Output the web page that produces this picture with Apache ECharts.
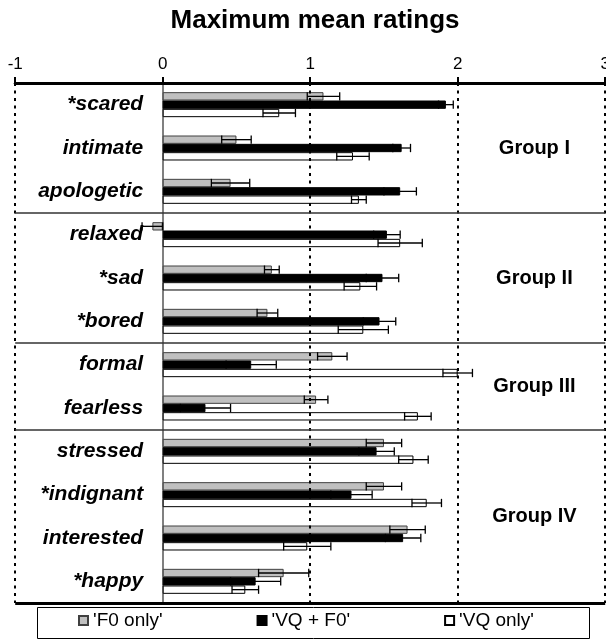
<!DOCTYPE html>
<html><head><meta charset="utf-8">
<script src="https://cdn.jsdelivr.net/npm/echarts@6/dist/echarts.min.js"></script>
<style>html,body{margin:0;padding:0;background:#fff}#c{width:606px;height:644px}</style>
</head><body><div id="c"></div>
<script>
// ---- data ----
const categories = ['*scared','intimate','apologetic','relaxed','*sad','*bored','formal','fearless','stressed','*indignant','interested','*happy'];
const xTicks = [-1, 0, 1, 2, 3];
const seriesNames = ["'F0 only'", "'VQ + F0'", "'VQ only'"];
const f0Mean   = [1.09, 0.50, 0.46, -0.07, 0.74, 0.71, 1.15, 1.04, 1.50, 1.50, 1.66, 0.82];
const f0Err    = [0.11, 0.10, 0.13,  0.07, 0.05, 0.07, 0.10, 0.08, 0.12, 0.12, 0.12, 0.17];
const vqf0Mean = [1.92, 1.62, 1.61, 1.52, 1.49, 1.47, 0.60, 0.29, 1.45, 1.28, 1.63, 0.63];
const vqf0Err  = [0.05, 0.06, 0.11, 0.09, 0.11, 0.11, 0.17, 0.17, 0.12, 0.14, 0.12, 0.17];
const vqMean   = [0.79, 1.29, 1.33, 1.61, 1.34, 1.36, 2.00, 1.73, 1.70, 1.79, 0.98, 0.56];
const vqErr    = [0.11, 0.11, 0.05, 0.15, 0.11, 0.17, 0.10, 0.09, 0.10, 0.10, 0.16, 0.09];
const groupNames = ['Group I', 'Group II', 'Group III', 'Group IV'];
const groupSizes = [3, 3, 2, 4];

// ---- derived ----
const FONT = '"Liberation Sans", Arial, sans-serif';
const BAR_W = 8.33;
const bounds = []; const centers = [];
let acc = 0;
groupSizes.forEach(s => { centers.push(acc + s / 2); acc += s; bounds.push(acc); });

const chart = echarts.init(document.getElementById('c'), null, {renderer: 'canvas'});

const styles = [
  {color: '#c0c0c0', borderColor: '#404040', borderWidth: 1},
  {color: '#000000', borderColor: '#000000', borderWidth: 1},
  {color: '#ffffff', borderColor: '#000000', borderWidth: 1}
];
const means = [f0Mean, vqf0Mean, vqMean];
const errs = [f0Err, vqf0Err, vqErr];

const series = [];
means.forEach((m, k) => {
  series.push({
    name: seriesNames[k], type: 'bar', xAxisIndex: 0, yAxisIndex: 0,
    data: m, barWidth: BAR_W, barGap: '0%', itemStyle: styles[k], z: 2
  });
});
means.forEach((m, k) => {
  series.push({
    name: 'err' + k, type: 'custom', xAxisIndex: 0, yAxisIndex: 0, z: 5,
    data: m.map((v, i) => [v, errs[k][i], i]),
    encode: {x: 0, y: 2},
    renderItem(params, api) {
      const v = api.value(0), e = api.value(1), c = api.value(2);
      const a = api.coord([v - e, c]), b = api.coord([v + e, c]);
      const y = a[1] + (k - 1) * BAR_W;
      const h = BAR_W / 2;
      const st = {stroke: '#000', lineWidth: 1.3};
      return {type: 'group', children: [
        {type: 'line', shape: {x1: a[0], y1: y, x2: b[0], y2: y}, style: st},
        {type: 'line', shape: {x1: a[0], y1: y - h, x2: a[0], y2: y + h}, style: st},
        {type: 'line', shape: {x1: b[0], y1: y - h, x2: b[0], y2: y + h}, style: st}
      ]};
    }
  });
});
const dotted = {color: '#000', width: 2, type: [3, 4.5]};
const sepStyle = {color: '#333', width: 1.5, type: 'solid'};
series.push({
  name: 'groups', type: 'custom', xAxisIndex: 0, yAxisIndex: 1, z: 6, silent: true,
  data: groupNames.map((g, i) => [2.52, centers[i]]),
  encode: {x: 0, y: 1},
  renderItem(params, api) {
    const p = api.coord([api.value(0), api.value(1)]);
    return {type: 'text', x: p[0], y: p[1], style: {
      text: groupNames[params.dataIndex], fill: '#000', align: 'center', verticalAlign: 'middle',
      font: 'bold 20px ' + FONT
    }};
  },
  markLine: {
    silent: true, symbol: ['none', 'none'], label: {show: false}, animation: false,
    data: [
      ...xTicks.filter(t => t !== 0).map(t => ({xAxis: t, lineStyle: dotted})),
      ...bounds.slice(0, -1).map(b => ({yAxis: b, lineStyle: sepStyle})),
      {yAxis: bounds[bounds.length - 1], lineStyle: {color: '#000', width: 3, type: 'solid'}}
    ]
  }
});

chart.setOption({
  animation: false,
  textStyle: {fontFamily: FONT},
  title: {
    text: 'Maximum mean ratings', left: 310, top: 3, textAlign: 'center',
    textStyle: {fontFamily: FONT, fontSize: 26, fontWeight: 'bold', color: '#000'}
  },
  grid: {left: 15.2, right: 0.8, top: 83, bottom: 41, containLabel: false, outerBoundsMode: 'none'},
  xAxis: {
    type: 'value', position: 'top', min: xTicks[0], max: xTicks[xTicks.length - 1], interval: 1,
    axisLine: {show: true, onZero: false, lineStyle: {color: '#000', width: 3}},
    axisTick: {show: true, length: 6, lineStyle: {color: '#000', width: 2}},
    axisLabel: {fontSize: 17, color: '#000', margin: 10, fontFamily: FONT, showMinLabel: true, showMaxLabel: true},
    splitLine: {show: false}
  },
  yAxis: [{
    type: 'category', data: categories, inverse: true,
    axisLine: {show: true, onZero: true, lineStyle: {color: '#808080', width: 2}},
    axisTick: {show: false},
    axisLabel: {fontSize: 21, fontWeight: 'bold', fontStyle: 'italic', color: '#000', margin: -128,
      align: 'right', fontFamily: FONT, interval: 0},
    splitLine: {show: false}
  }, {
    type: 'value', min: 0, max: categories.length, inverse: true, show: false
  }],
  legend: {
    data: seriesNames, left: 78, top: 611, padding: 0, itemGap: 94,
    itemWidth: 9, itemHeight: 9, icon: 'rect',
    textStyle: {fontSize: 19, color: '#000', fontFamily: FONT}
  },
  graphic: [{
    type: 'rect', left: 35, top: 605, shape: {width: 552, height: 31},
    style: {fill: 'none', stroke: '#000', lineWidth: 1}, silent: true
  }],
  series
});
</script></body></html>
